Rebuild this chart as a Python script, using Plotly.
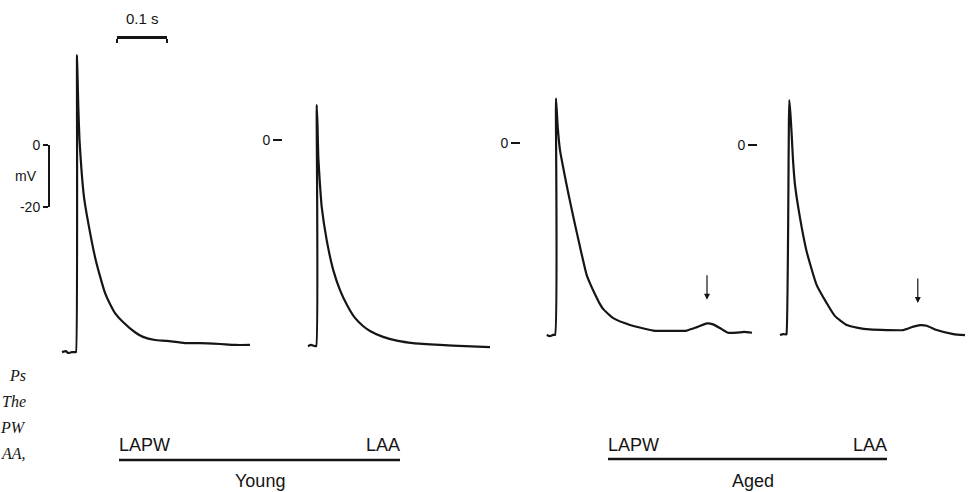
import plotly.graph_objects as go

# ---------------- data (time in ms from spike peak, membrane potential in mV) ----------------
young_lapw_t = [-30, -22, -18, -10, -3, -2, 0, 1, 2.6, 5, 9.4, 14, 22.6, 36, 46, 56, 66, 76, 92,
                116, 132, 156, 180, 216, 246, 286, 316, 346]
young_lapw_v = [-66.8, -66.5, -67.1, -66.8, -66.8, -66.8, 29.0, 22.6, 12.3, 1.6, -9.0, -16.8, -25.2,
                -36.1, -42.3, -47.7, -51.3, -54.2, -57.1, -60.4, -61.9, -62.9, -63.2, -63.9, -63.9,
                -64.2, -64.5, -64.5]

young_laa_t = [-17.4, -11.4, -3.4, -1, 0, 1.6, 3.2, 6.6, 10, 20, 33, 46.6, 60.6, 76.6, 92.6, 106.6,
               132.6, 162.6, 192.6, 246.6, 296.6, 346.6]
young_laa_v = [-66.5, -66.1, -66.5, -66.5, 11.3, 4.8, -5.5, -14.5, -21.6, -32.3, -41.9, -48.4, -53.2,
               -57.4, -60.0, -61.6, -63.5, -64.8, -65.5, -66.1, -66.5, -66.8]

aged_lapw_t = [-18.6, -12, -6, -2, 0, 3.4, 8, 18, 24.6, 34.6, 48, 61.4, 70, 78, 86, 94.6, 114.6, 148,
               194.6, 228, 261.4, 282, 302, 314, 328, 344, 361.4, 376, 392]
aged_lapw_v = [-61.9, -62.3, -61.9, -61.9, 14.4, 5.3, -2.3, -10.9, -16.2, -23.8, -33.5, -42.6, -46.0,
               -48.8, -51.4, -53.6, -56.5, -58.7, -60.5, -60.6, -60.5, -59.4, -58.2, -58.5, -59.7,
               -61.2, -61.2, -60.9, -61.2]

aged_laa_t = [-18.6, -12.6, -6.6, -5.6, 0, 2.4, 4.8, 7.4, 11.4, 21.4, 34.8, 54.8, 74.8, 91.4, 114.8,
              137.4, 160.6, 194.8, 228, 248, 261.4, 274.8, 294.8, 328, 351.4]
aged_laa_v = [-61.3, -61.0, -61.1, -61.0, 14.5, 9.7, 3.2, -4.8, -12.9, -23.5, -34.4, -45.2, -51.0,
              -55.2, -58.1, -59.0, -59.5, -59.7, -59.7, -58.6, -58.1, -58.3, -59.7, -61.0, -61.3]

# arrows marking the late depolarisations (time ms, mV at arrow head)
arrow_t = [302, 257]
arrow_v = [-50.6, -51.0]

# scale bars
time_bar_ms = 100
volt_bar_mv = 20
time_bar_label = "0.1 s"
volt_bar_ticks = [0, -20]
volt_bar_ticktext = ["0", "-20"]
volt_bar_unit = "mV"

site_labels = ["LAPW", "LAA"]
group_labels = ["Young", "Aged"]
caption_fragments = ["Ps", "The", "PW", "AA,"]

# ---------------- layout constants ----------------
W, H = 974, 492
PX_PER_MS = 0.5
PX_PER_MV = 3.1
FONT = "Liberation Sans, Arial, sans-serif"
INK = "#151515"

panels = [
    dict(t=young_lapw_t, v=young_lapw_v, spike=77.0, zero=145.0, dom=(55, 262), zero_axis=None),
    dict(t=young_laa_t, v=young_laa_v, spike=316.7, zero=140.0, dom=(300, 500), zero_axis=282),
    dict(t=aged_lapw_t, v=aged_lapw_v, spike=556.0, zero=143.0, dom=(540, 762), zero_axis=520),
    dict(t=aged_laa_t, v=aged_laa_v, spike=789.3, zero=145.0, dom=(775, 972), zero_axis=757),
]

fig = go.Figure()
layout = {}
for i, p in enumerate(panels, start=1):
    sfx = "" if i == 1 else str(i)
    fig.add_trace(go.Scatter(
        x=p["t"], y=p["v"], mode="lines",
        line=dict(color=INK, width=2.2, shape="spline", smoothing=0.5),
        xaxis="x" + sfx, yaxis="y" + sfx, showlegend=False, hoverinfo="skip"))
    d0, d1 = p["dom"]
    layout["xaxis" + sfx] = dict(
        domain=[d0 / W, d1 / W],
        range=[(d0 - p["spike"]) / PX_PER_MS, (d1 - p["spike"]) / PX_PER_MS],
        visible=False, anchor="y" + sfx, fixedrange=True)
    yax = dict(
        domain=[0, 1],
        range=[-(H - p["zero"]) / PX_PER_MV, p["zero"] / PX_PER_MV],
        showgrid=False, zeroline=False, showline=False, fixedrange=True)
    if p["zero_axis"] is None:
        yax.update(visible=False, anchor="x" + sfx)
    else:
        yax.update(anchor="free", position=p["zero_axis"] / W, side="left",
                   tickmode="array", tickvals=[0], ticktext=["0"],
                   ticks="outside", ticklen=9, tickwidth=2, tickcolor=INK,
                   tickfont=dict(family=FONT, size=14, color=INK), automargin=False)
    layout["yaxis" + sfx] = yax

# scale-bar axes, in the same px/ms and px/mV scale as the traces
tb_x0, tb_y = 117, 37
vb_x, vb_top = 49, 145
fig.add_trace(go.Scatter(x=[None], y=[None], xaxis="x5", yaxis="y5",
                         showlegend=False, hoverinfo="skip"))
layout["xaxis5"] = dict(
    domain=[tb_x0 / W, (tb_x0 + time_bar_ms * PX_PER_MS) / W],
    range=[0, time_bar_ms], anchor="free", position=1 - tb_y / H, side="bottom",
    showline=True, linewidth=2.5, linecolor=INK, showgrid=False, zeroline=False,
    tickmode="array", tickvals=[0, time_bar_ms], ticks="outside", ticklen=4,
    tickwidth=2.5, tickcolor=INK, showticklabels=False, fixedrange=True, automargin=False)
layout["yaxis5"] = dict(
    domain=[1 - (vb_top + volt_bar_mv * PX_PER_MV) / H, 1 - vb_top / H],
    range=[-volt_bar_mv, 0], anchor="free", position=vb_x / W, side="left",
    showline=True, linewidth=2, linecolor=INK, showgrid=False, zeroline=False,
    tickmode="array", tickvals=volt_bar_ticks, ticktext=volt_bar_ticktext,
    ticks="outside", ticklen=5, tickwidth=2, tickcolor=INK, fixedrange=True, automargin=False,
    tickfont=dict(family=FONT, size=14, color=INK))

annotations = []
# time bar label
annotations.append(dict(text=time_bar_label, xref="paper", yref="paper",
                        x=(tb_x0 + time_bar_ms * PX_PER_MS / 2) / W, y=1 - 19 / H,
                        xanchor="center", yanchor="middle", showarrow=False,
                        font=dict(family=FONT, size=15, color=INK)))
# mV unit label
annotations.append(dict(text=volt_bar_unit, xref="paper", yref="paper", x=39 / W,
                        y=1 - 176 / H, xanchor="right", yanchor="middle", showarrow=False,
                        font=dict(family=FONT, size=14, color=INK)))
# arrows
for (ax_name, t, v) in zip(["3", "4"], arrow_t, arrow_v):
    annotations.append(dict(text="", xref="x" + ax_name, yref="y" + ax_name, x=t, y=v,
                            ax=0, ay=-26, showarrow=True, arrowhead=2, arrowsize=1,
                            arrowwidth=1.2, arrowcolor=INK))

# group brackets
shapes = []
groups = [(119, 400, 460, 260, group_labels[0]), (608, 887, 459, 753, group_labels[1])]
for x0, x1, ly, cx, name in groups:
    shapes.append(dict(type="line", xref="paper", yref="paper", x0=x0 / W, x1=x1 / W,
                       y0=1 - ly / H, y1=1 - ly / H, line=dict(color=INK, width=2.5)))
    annotations.append(dict(text=site_labels[0], xref="paper", yref="paper", x=(x0 - 2) / W,
                            y=1 - 445 / H, xanchor="left", yanchor="middle", showarrow=False,
                            font=dict(family=FONT, size=18, color=INK)))
    annotations.append(dict(text=site_labels[1], xref="paper", yref="paper", x=(x1 + 2) / W,
                            y=1 - 445 / H, xanchor="right", yanchor="middle", showarrow=False,
                            font=dict(family=FONT, size=18, color=INK)))
    annotations.append(dict(text=name, xref="paper", yref="paper", x=cx / W,
                            y=1 - 481 / H, xanchor="center", yanchor="middle", showarrow=False,
                            font=dict(family=FONT, size=18, color=INK)))

# caption fragments at the left edge (visible parts of a cropped caption)
for k, frag in enumerate(caption_fragments):
    annotations.append(dict(text="<i>" + frag + "</i>", xref="paper", yref="paper",
                            x=28 / W, y=1 - (375 + 26 * k) / H, xanchor="right",
                            yanchor="middle", showarrow=False,
                            font=dict(family="Liberation Serif, Times New Roman, serif",
                                      size=16, color=INK)))

fig.update_layout(
    width=W, height=H, margin=dict(l=0, r=0, t=0, b=0, pad=0, autoexpand=False),
    paper_bgcolor="white", plot_bgcolor="white",
    annotations=annotations, shapes=shapes, showlegend=False, **layout)

fig.write_html("out.html",
               config={"displayModeBar": False, "staticPlot": True},
               post_script="document.body.style.margin='0px';"
                           "document.body.style.overflow='hidden';")
